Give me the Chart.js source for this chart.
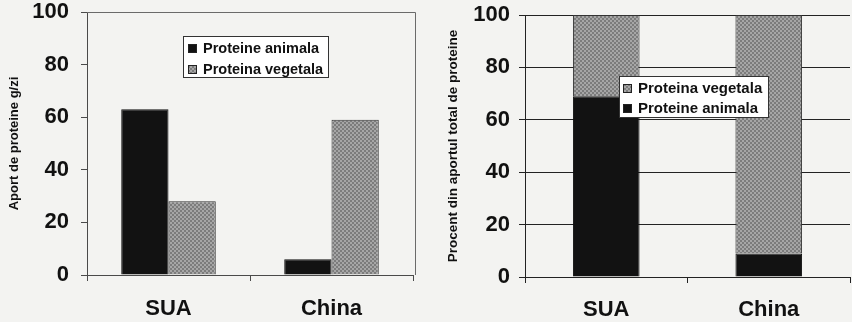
<!DOCTYPE html>
<html><head><meta charset="utf-8">
<script src="https://cdn.jsdelivr.net/npm/chart.js@4"></script>
<style>
html,body{margin:0;padding:0;background:#f3f3f1;width:852px;height:322px;overflow:hidden}
.w{position:absolute;top:0;width:426px;height:322px}
canvas{display:block}
</style></head><body>
<div class="w" style="left:0"><canvas id="c1" width="426" height="322"></canvas></div>
<div class="w" style="left:426px"><canvas id="c2" width="426" height="322"></canvas></div>
<script>
// ---- data ----
const categories = ['SUA', 'China'];
const seriesNames = ['Proteine animala', 'Proteina vegetala'];
const animalGramsPerDay = [63, 6];
const vegetalGramsPerDay = [28, 59];
const animalPercent = [69, 9];
const vegetalPercent = [31, 91];
const leftAxisTitle = 'Aport de proteine g/zi';
const rightAxisTitle = 'Procent din aportul total de proteine';
const yMin = 0, yMax = 100, yStep = 20;

// ---- styles ----
const FONT = '"Liberation Sans", Arial, sans-serif';
function makePattern() {
  const c = document.createElement('canvas'); c.width = 4; c.height = 4;
  const x = c.getContext('2d');
  x.fillStyle = '#7c7c7c'; x.fillRect(0, 0, 4, 4);
  x.fillStyle = '#a6a6a6'; x.fillRect(0, 0, 2, 2); x.fillRect(2, 2, 2, 2);
  return x.createPattern(c, 'repeat');
}
const grayPat = makePattern();
const BLACK = '#121212';

const boxLegend = {
  id: 'boxLegend',
  afterDatasetsDraw(chart, args, o) {
    const ctx = chart.ctx;
    ctx.save();
    ctx.fillStyle = '#ffffff'; ctx.fillRect(o.x, o.y, o.w, o.h);
    ctx.strokeStyle = '#333'; ctx.lineWidth = 1;
    ctx.strokeRect(o.x + 0.5, o.y + 0.5, o.w, o.h);
    ctx.font = 'bold ' + o.size + 'px ' + FONT;
    ctx.textBaseline = 'middle';
    o.order.forEach((di, i) => {
      const ds = chart.data.datasets[di];
      const cy = o.y + o.firstRow + i * o.rowGap;
      ctx.fillStyle = ds.backgroundColor;
      ctx.fillRect(o.x + o.swX, cy - 4, 9, 9);
      ctx.strokeStyle = '#222';
      ctx.strokeRect(o.x + o.swX + 0.5, cy - 3.5, 8, 8);
      ctx.fillStyle = '#111';
      ctx.fillText(ds.label, o.x + o.txX, cy + 1);
    });
    ctx.restore();
  }
};
const frame = {
  id: 'frame',
  beforeDatasetsDraw(chart, args, o) {
    if (!o.show) return;
    const a = chart.chartArea, ctx = chart.ctx;
    ctx.save();
    ctx.strokeStyle = o.color; ctx.lineWidth = 1;
    ctx.beginPath();
    ctx.moveTo(a.left, a.top + 0.5); ctx.lineTo(a.right + 2.5, a.top + 0.5);
    ctx.lineTo(a.right + 2.5, a.bottom);
    ctx.stroke();
    ctx.restore();
  }
};

function makeChart(id, ds, opt) {
  return new Chart(document.getElementById(id), {
    type: 'bar',
    data: { labels: categories, datasets: ds },
    plugins: [boxLegend, frame],
    options: {
      responsive: false, animation: false,
      layout: { padding: { top: opt.top, right: opt.right, left: 0, bottom: 0 } },
      datasets: { bar: { categoryPercentage: opt.catPct, barPercentage: 1 } },
      plugins: {
        legend: { display: false }, tooltip: { enabled: false },
        boxLegend: opt.legend,
        frame: { show: opt.frame, color: '#6a6a6a' }
      },
      scales: {
        x: {
          stacked: opt.stacked,
          afterFit: s => { s.height = opt.xh; s.paddingLeft = 0; s.paddingRight = 0; },
          grid: { offset: true, drawOnChartArea: false, tickLength: 6, color: opt.axisColor },
          border: { color: opt.axisColor, width: 1 },
          ticks: { color: '#111', padding: opt.xpad, font: { family: FONT, size: 22, weight: 'bold' } }
        },
        y: {
          stacked: opt.stacked,
          min: yMin, max: yMax,
          afterFit: s => { s.width = opt.yw; s.paddingTop = 0; s.paddingBottom = 0; },
          grid: { drawOnChartArea: opt.grid, tickLength: 6, color: opt.axisColor },
          border: { color: opt.axisColor, width: 1 },
          ticks: { stepSize: yStep, color: '#111', padding: opt.ypad, font: { family: FONT, size: 22, weight: 'bold' } },
          title: { display: true, text: opt.title, color: '#111', padding: { top: opt.tpad, bottom: 0 },
                   font: { family: FONT, size: opt.tsize, weight: 'bold' } }
        }
      }
    }
  });
}

makeChart('c1', [
  { label: seriesNames[0], data: animalGramsPerDay, backgroundColor: BLACK, borderColor: '#111', borderWidth: 1 },
  { label: seriesNames[1], data: vegetalGramsPerDay, backgroundColor: grayPat, borderColor: '#333', borderWidth: 1 }
], {
  top: 12, right: 13, catPct: 0.58, stacked: false, xh: 47, yw: 87, xpad: 15, ypad: 12, tpad: 7, tsize: 13,
  grid: false, frame: true, axisColor: '#4a4a4a', title: leftAxisTitle,
  legend: { x: 183, y: 36, w: 145, h: 41, firstRow: 12, rowGap: 21, swX: 5, txX: 20, size: 14.5, order: [0, 1] }
});

makeChart('c2', [
  { label: seriesNames[0], data: animalPercent, backgroundColor: BLACK, borderColor: '#111', borderWidth: 1 },
  { label: seriesNames[1], data: vegetalPercent, backgroundColor: grayPat, borderColor: '#333', borderWidth: 1 }
], {
  top: 15, right: 2, catPct: 0.41, stacked: true, xh: 45, yw: 99, xpad: 14, ypad: 9, tpad: 19, tsize: 13.5,
  grid: true, frame: false, axisColor: '#222', title: rightAxisTitle,
  legend: { x: 193, y: 76, w: 149, h: 41, firstRow: 12, rowGap: 20, swX: 4, txX: 19, size: 15, order: [1, 0] }
});
</script>
</body></html>
